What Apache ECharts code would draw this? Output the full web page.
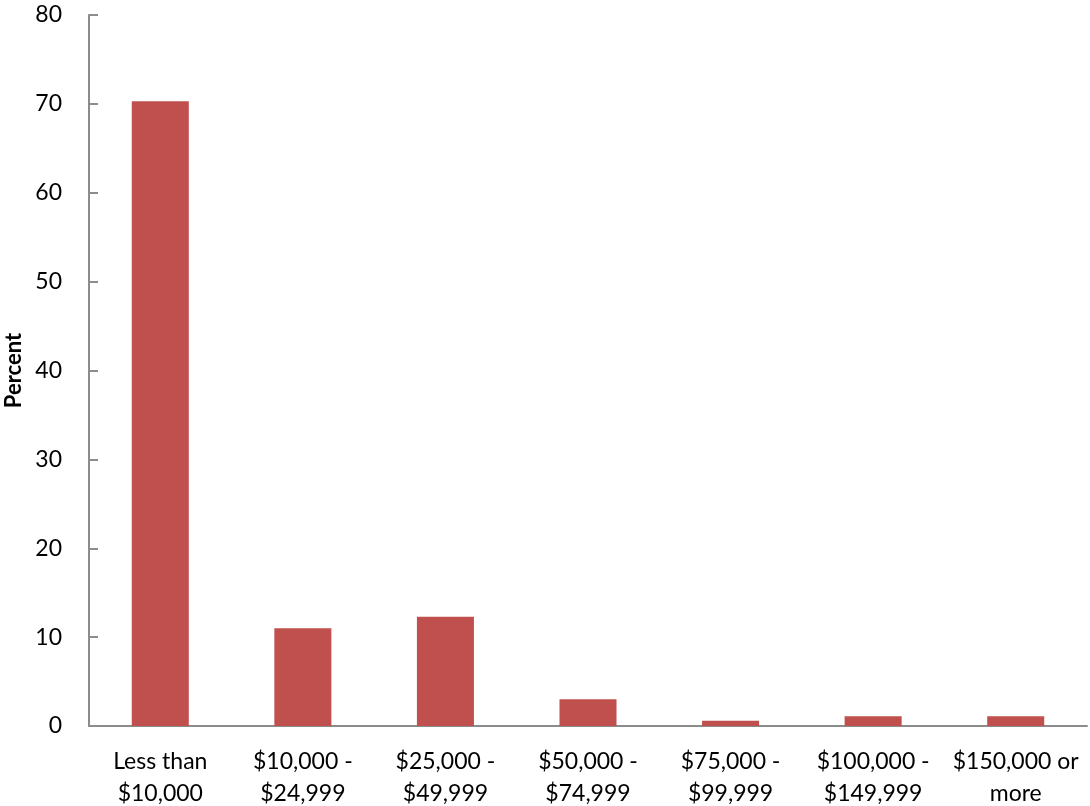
<!DOCTYPE html>
<html>
<head>
<meta charset="utf-8">
<script src="https://cdn.jsdelivr.net/npm/echarts@6/dist/echarts.min.js"></script>
<style>
  html, body { margin: 0; padding: 0; background: #fff; }
  #chart { width: 1090px; height: 806px; }
</style>
</head>
<body>
<div id="chart"></div>
<script>
// categories and values
const categories = ['Less than\n$10,000', '$10,000 -\n$24,999', '$25,000 -\n$49,999', '$50,000 -\n$74,999',
  '$75,000 -\n$99,999', '$100,000 -\n$149,999', '$150,000 or\nmore'];
const percents = [70.3, 11.0, 12.3, 3.0, 0.6, 1.1, 1.1];

const axisColor = '#8c8c8c';
const fontFam = 'Lato, "Open Sans", sans-serif';

let myChart = echarts.init(document.getElementById('chart'));
myChart.setOption({
  animation: false,
  textStyle: { fontFamily: fontFam, color: '#000' },
  grid: { left: 89, right: 3, top: 15, bottom: 80, outerBoundsMode: 'none', containLabel: false },
  xAxis: {
    type: 'category',
    data: categories,
    axisLine: { lineStyle: { color: axisColor, width: 2 } },
    axisTick: { inside: true, length: 9, lineStyle: { color: axisColor, width: 2 } },
    axisLabel: { fontSize: 23, color: '#000', margin: 20, lineHeight: 32, interval: 0, fontFamily: fontFam }
  },
  yAxis: {
    type: 'value',
    min: 0, max: 80, interval: 10,
    name: 'Percent',
    nameLocation: 'middle',
    nameGap: 64,
    nameTextStyle: { fontSize: 22, fontWeight: 'bold', color: '#000', fontFamily: fontFam },
    splitLine: { show: false },
    axisLine: { show: true, lineStyle: { color: axisColor, width: 2 } },
    axisTick: { show: true, inside: true, length: 9, lineStyle: { color: axisColor, width: 2 } },
    axisLabel: { fontSize: 23, color: '#000', margin: 27, fontFamily: fontFam }
  },
  series: [{
    type: 'bar',
    data: percents,
    barWidth: '40%',
    itemStyle: { color: '#C0504D' }
  }]
});
</script>
</body>
</html>
